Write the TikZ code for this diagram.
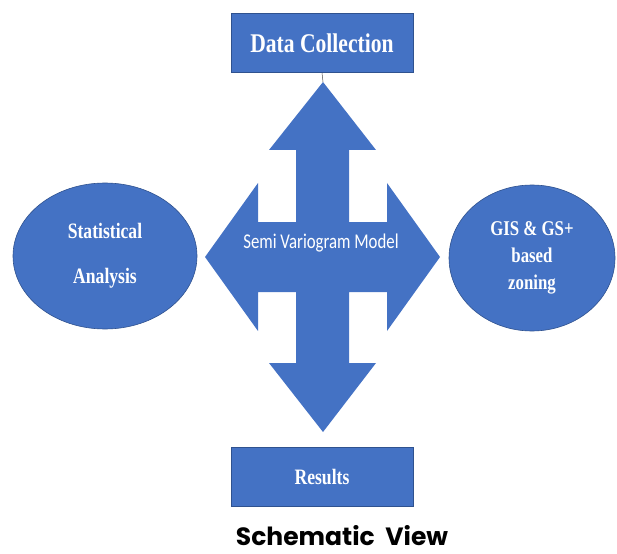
\documentclass[tikz,border=0pt]{standalone}
\usepackage{fontspec}
\usetikzlibrary{shapes.geometric}
\setmainfont{Liberation Serif}[FakeStretch=0.8]
\newfontfamily\calfont{Carlito}[FakeStretch=0.8]
\newfontfamily\capfont{Poppins}[FakeStretch=1.0]
\definecolor{officeblue}{HTML}{4472C4}
\definecolor{edgeblue}{HTML}{2F528F}
\begin{document}
\begin{tikzpicture}[
      x=1pt, y=-1pt,
      box/.style={rectangle, draw=edgeblue, fill=officeblue, line width=0.8pt,
        minimum width=182pt, minimum height=59pt, text=white,
        font=\bfseries\fontsize{27}{29}\selectfont},
      blob/.style={ellipse, draw=edgeblue, fill=officeblue, line width=0.6pt,
        inner sep=0pt, text=white, align=center},
      every node/.style={inner sep=0pt}
    ]
    \useasboundingbox (0,0) rectangle (617,553);

    % four way arrow
    \fill[officeblue] (323,82) coordinate (tip) -- (376,150) -- (349,150) -- (349,222)
      -- (387,222) -- (387,183) -- (440,257) -- (387,331) -- (387,292) -- (349,292)
      -- (349,363) -- (376,363) -- (323,432) -- (269,363) -- (296,363) -- (296,292)
      -- (258,292) -- (258,331) -- (205,257) -- (258,183) -- (258,222) -- (296,222)
      -- (296,150) -- (269,150) -- cycle;
    \node (model) at (321,243) {\calfont\fontsize{21}{23}\selectfont\color{white}Semi Variogram Model};

    \node[box] (data) at (322,43) {Data Collection};
    \node[box, font=\bfseries\fontsize{22}{24}\selectfont] (results) at (322,477) {Results};

    \node[blob, minimum width=184pt, minimum height=146pt,
      font=\bfseries\fontsize{22}{45}\selectfont] (stat) at (105,256)
      {Statistical\\Analysis};
    \node[blob, minimum width=166pt, minimum height=146pt,
      font=\bfseries\fontsize{21}{27}\selectfont] (gis) at (532,258)
      {GIS \& GS+\\based\\zoning};

    \draw[black!70, line width=0.5pt] (data.south) -- (tip);

    \node[anchor=base, text depth=0pt, font=\capfont\bfseries\fontsize{25}{27}\selectfont]
      (title) at (342,545) {Schematic\ \ View};

\end{tikzpicture}
\end{document}
